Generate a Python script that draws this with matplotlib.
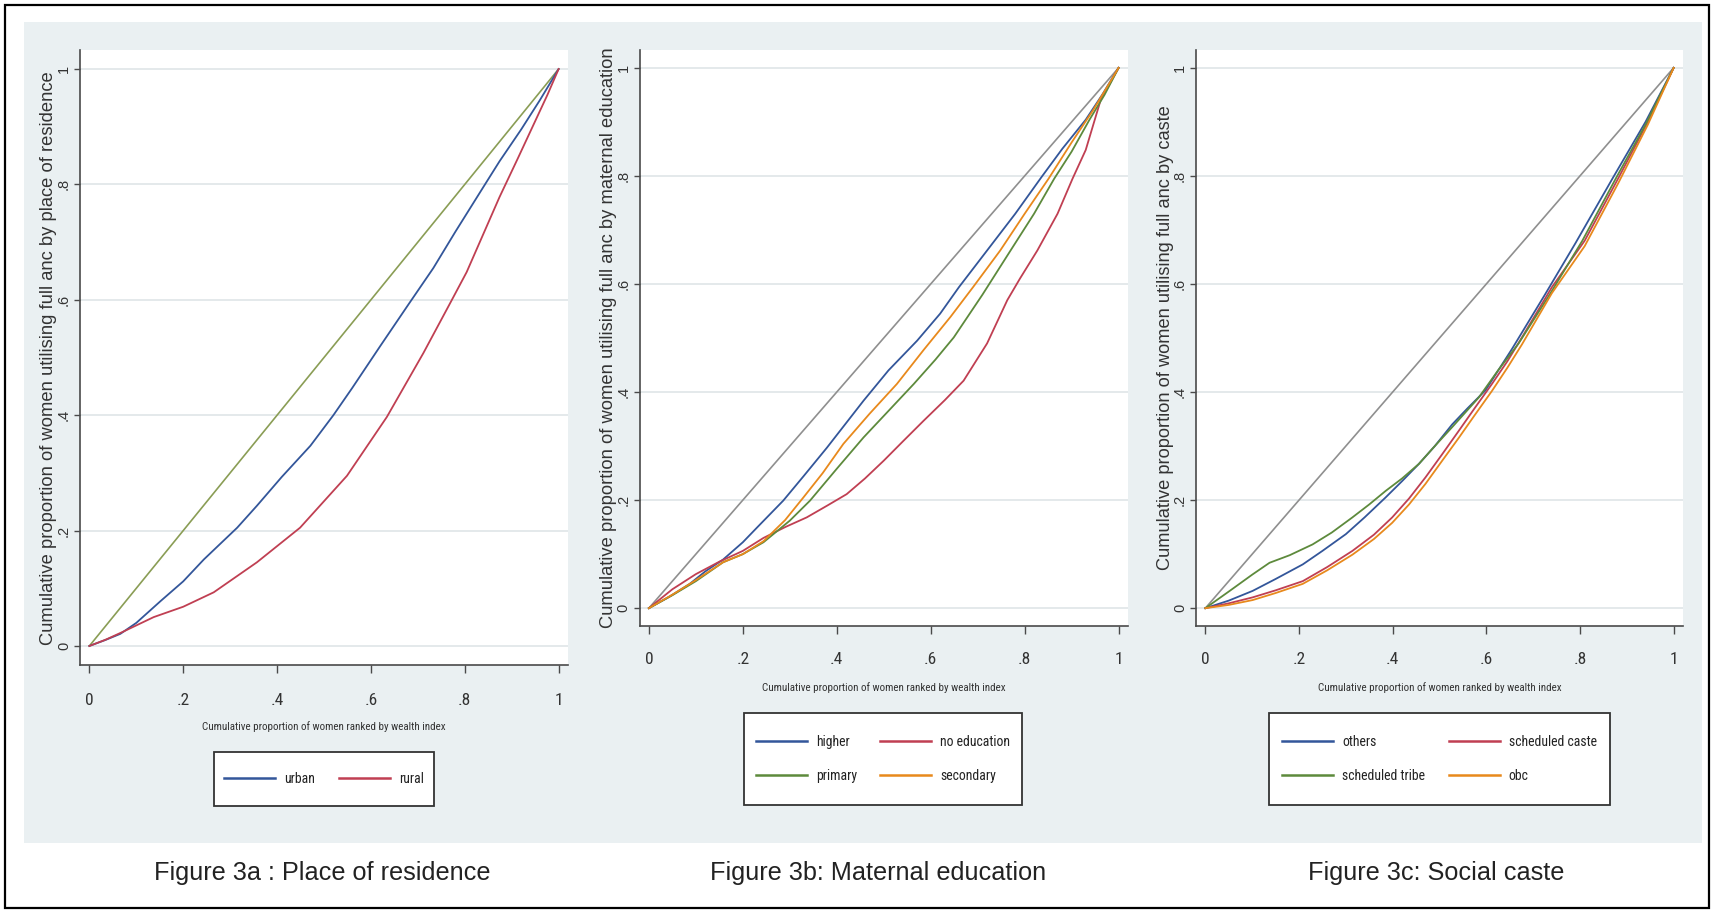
import matplotlib
matplotlib.use('Agg')
import matplotlib.pyplot as plt
from matplotlib.patches import Rectangle
from matplotlib.lines import Line2D
from matplotlib import font_manager
from matplotlib.font_manager import FontProperties

# ---------------- data ----------------
tick_vals = [0, 0.2, 0.4, 0.6, 0.8, 1.0]
tick_labels = ['0', '.2', '.4', '.6', '.8', '1']

# Figure 3a : place of residence
x_urban = [0, 0.033, 0.066, 0.10, 0.152, 0.20, 0.244, 0.315, 0.357, 0.41, 0.471, 0.52, 0.56, 0.62, 0.68, 0.733, 0.78, 0.84, 0.874, 0.92, 0.96, 1.0]
y_urban = [0, 0.010, 0.021, 0.040, 0.078, 0.112, 0.150, 0.205, 0.243, 0.293, 0.347, 0.400, 0.447, 0.520, 0.592, 0.655, 0.718, 0.796, 0.840, 0.895, 0.946, 1.0]
x_rural = [0, 0.035, 0.07, 0.137, 0.20, 0.265, 0.357, 0.449, 0.549, 0.634, 0.712, 0.77, 0.804, 0.874, 0.913, 0.976, 1.0]
y_rural = [0, 0.011, 0.024, 0.050, 0.068, 0.093, 0.145, 0.205, 0.295, 0.397, 0.508, 0.596, 0.648, 0.778, 0.845, 0.955, 1.0]

# Figure 3b : maternal education
x_higher = [0, 0.045, 0.087, 0.12, 0.158, 0.20, 0.230, 0.286, 0.33, 0.379, 0.457, 0.51, 0.571, 0.62, 0.66, 0.72, 0.78, 0.836, 0.88, 0.93, 0.965, 1.0]
y_higher = [0, 0.022, 0.045, 0.068, 0.090, 0.122, 0.149, 0.199, 0.245, 0.297, 0.384, 0.44, 0.495, 0.545, 0.594, 0.662, 0.73, 0.798, 0.85, 0.904, 0.95, 1.0]
x_noedu = [0, 0.05, 0.10, 0.15, 0.20, 0.244, 0.29, 0.336, 0.38, 0.421, 0.46, 0.500, 0.54, 0.585, 0.63, 0.670, 0.72, 0.763, 0.79, 0.827, 0.87, 0.902, 0.93, 0.962, 1.0]
y_noedu = [0, 0.035, 0.063, 0.086, 0.106, 0.130, 0.150, 0.168, 0.19, 0.211, 0.24, 0.273, 0.308, 0.347, 0.385, 0.421, 0.49, 0.570, 0.61, 0.662, 0.73, 0.795, 0.848, 0.941, 1.0]
x_primary = [0, 0.05, 0.10, 0.158, 0.20, 0.244, 0.30, 0.343, 0.40, 0.457, 0.51, 0.564, 0.61, 0.649, 0.71, 0.770, 0.82, 0.863, 0.90, 0.938, 0.97, 1.0]
y_primary = [0, 0.024, 0.050, 0.085, 0.100, 0.122, 0.162, 0.199, 0.258, 0.316, 0.365, 0.415, 0.46, 0.501, 0.58, 0.662, 0.73, 0.795, 0.845, 0.904, 0.95, 1.0]
x_secondary = [0, 0.05, 0.10, 0.158, 0.20, 0.244, 0.29, 0.329, 0.37, 0.414, 0.47, 0.528, 0.585, 0.642, 0.69, 0.748, 0.80, 0.851, 0.90, 0.946, 1.0]
y_secondary = [0, 0.025, 0.052, 0.085, 0.100, 0.124, 0.163, 0.205, 0.25, 0.304, 0.36, 0.415, 0.478, 0.539, 0.594, 0.662, 0.73, 0.795, 0.862, 0.922, 1.0]

# Figure 3c : social caste
x_others = [0, 0.05, 0.101, 0.15, 0.208, 0.25, 0.300, 0.34, 0.385, 0.42, 0.456, 0.49, 0.527, 0.56, 0.598, 0.655, 0.725, 0.79, 0.87, 0.94, 1.0]
y_others = [0, 0.014, 0.032, 0.054, 0.081, 0.106, 0.137, 0.168, 0.205, 0.235, 0.267, 0.30, 0.34, 0.37, 0.403, 0.48, 0.58, 0.675, 0.796, 0.90, 1.0]
x_sc = [0, 0.05, 0.101, 0.15, 0.208, 0.26, 0.314, 0.36, 0.399, 0.435, 0.470, 0.505, 0.541, 0.575, 0.612, 0.645, 0.676, 0.74, 0.81, 0.882, 0.945, 1.0]
y_sc = [0, 0.009, 0.020, 0.033, 0.050, 0.076, 0.106, 0.136, 0.168, 0.203, 0.242, 0.284, 0.328, 0.370, 0.415, 0.457, 0.501, 0.594, 0.68, 0.796, 0.90, 1.0]
x_st = [0, 0.052, 0.10, 0.137, 0.18, 0.229, 0.27, 0.314, 0.35, 0.385, 0.42, 0.456, 0.49, 0.527, 0.584, 0.625, 0.669, 0.735, 0.805, 0.877, 0.94, 1.0]
y_st = [0, 0.032, 0.062, 0.084, 0.098, 0.118, 0.140, 0.168, 0.192, 0.217, 0.240, 0.267, 0.30, 0.335, 0.390, 0.44, 0.49, 0.58, 0.68, 0.796, 0.895, 1.0]
x_obc = [0, 0.05, 0.101, 0.15, 0.208, 0.26, 0.314, 0.36, 0.399, 0.435, 0.470, 0.505, 0.541, 0.575, 0.612, 0.645, 0.676, 0.74, 0.81, 0.882, 0.945, 1.0]
y_obc = [0, 0.006, 0.015, 0.028, 0.045, 0.070, 0.099, 0.128, 0.158, 0.192, 0.230, 0.272, 0.315, 0.357, 0.402, 0.445, 0.488, 0.583, 0.67, 0.787, 0.895, 1.0]

x_equal = [0, 1]
y_equal = [0, 1]

xlabel_text = 'Cumulative proportion of women ranked by wealth index'
ylabels = ['Cumulative proportion of women utilising full anc by place of residence',
           'Cumulative proportion of women utilising full anc by maternal education',
           'Cumulative proportion of women utilising full anc by caste']
captions = ['Figure 3a : Place of residence', 'Figure 3b: Maternal education', 'Figure 3c: Social caste']

# ---------------- styling ----------------
BLUE = '#33569a'
RED = '#c03f52'
GREEN = '#5d8a3c'
ORANGE = '#e8891c'
GRAY = '#8f8f8f'
OLIVE = '#8a9d55'
BG = '#eaf0f2'
GRID = '#e4e9eb'
AXC = '#4a4a4a'

W, H, DPI = 1713, 913, 100
REG = 'Liberation Sans'


def pick_narrow():
    prefs = ['Liberation Sans Narrow', 'Arial Narrow', 'Roboto Condensed', 'Noto Sans',
             'Noto Sans Condensed', 'DejaVu Sans Condensed', 'DejaVu Sans', 'Open Sans',
             'Open Sans Condensed', 'Roboto']
    found = []
    for f in font_manager.fontManager.ttflist:
        if f.style != 'normal':
            continue
        if f.weight not in (400, 'normal', 'regular', 'book'):
            continue
        narrowish = ('Narrow' in f.name or 'Condensed' in f.name or
                     f.stretch in ('condensed', 'semi-condensed'))
        if not narrowish:
            continue
        rank = prefs.index(f.name) if f.name in prefs else len(prefs)
        st = 0 if f.stretch in ('condensed', 'semi-condensed', 'normal') else 1
        found.append((rank, st, f.fname))
    if found:
        found.sort()
        return FontProperties(fname=found[0][2])
    return FontProperties(family=REG)


NARROW_FP = pick_narrow()

fig = plt.figure(figsize=(W / DPI, H / DPI), dpi=DPI)
fig.patch.set_facecolor('white')
renderer = fig.canvas.get_renderer()


def fx(px):
    return px / W


def fy(py):
    return 1 - py / H


def narrow(size):
    fp = NARROW_FP.copy()
    fp.set_size(size)
    return fp


# size the legend font so that a sample string matches the reference width
probe = fig.text(0, 0, 'scheduled caste', fontproperties=narrow(10))
w10 = probe.get_window_extent(renderer=renderer).width
LEG_SIZE = 10 * 88.0 / w10
probe.remove()
TICK_SIZE = 12.5

fig.add_artist(Rectangle((fx(24), fy(843)), fx(1702) - fx(24), fy(22) - fy(843),
                         transform=fig.transFigure, facecolor=BG, edgecolor='none', zorder=0))
fig.add_artist(Rectangle((fx(5), fy(908)), fx(1709) - fx(5), fy(5) - fy(908),
                         transform=fig.transFigure, fill=False, edgecolor='black',
                         linewidth=1.6, zorder=5))

panels = [
    dict(box=(80, 568, 50, 665), diag=OLIVE, xpad=14,
         series=[(x_urban, y_urban, BLUE, 'urban'), (x_rural, y_rural, RED, 'rural')],
         legend_order=[0, 1], leg_box=(214, 434, 752, 806), xlab_y=727, cap_x=322,
         ylab_c=358, ylab_len=575, cap_len=336),
    dict(box=(639.5, 1128, 50, 626), diag=GRAY, xpad=13,
         series=[(x_higher, y_higher, BLUE, 'higher'), (x_noedu, y_noedu, RED, 'no education'),
                 (x_primary, y_primary, GREEN, 'primary'), (x_secondary, y_secondary, ORANGE, 'secondary')],
         legend_order=[0, 2, 1, 3], leg_box=(744, 1022, 713, 805), xlab_y=688, cap_x=878,
         ylab_c=338, ylab_len=585, cap_len=336),
    dict(box=(1196, 1683, 50, 626), diag=GRAY, xpad=13,
         series=[(x_others, y_others, BLUE, 'others'), (x_sc, y_sc, RED, 'scheduled caste'),
                 (x_st, y_st, GREEN, 'scheduled tribe'), (x_obc, y_obc, ORANGE, 'obc')],
         legend_order=[0, 2, 1, 3], leg_box=(1269, 1610, 713, 805), xlab_y=688, cap_x=1436,
         ylab_c=338, ylab_len=468, cap_len=255),
]

fit_items = []

for i, p in enumerate(panels):
    l, r, t, b = p['box']
    ax = fig.add_axes([fx(l), fy(b), fx(r) - fx(l), fy(t) - fy(b)])
    ax.set_facecolor('white')
    ax.set_xlim(-0.02, 1.02)
    ax.set_ylim(-0.033, 1.033)
    for s in ['top', 'right']:
        ax.spines[s].set_visible(False)
    for s in ['left', 'bottom']:
        ax.spines[s].set_color(AXC)
        ax.spines[s].set_linewidth(1.2)
    ax.set_xticks(tick_vals)
    ax.set_xticklabels(tick_labels)
    ax.set_yticks(tick_vals)
    ax.set_yticklabels(tick_labels, rotation=90, va='center')
    ax.yaxis.grid(True, color=GRID, linewidth=1.4)
    ax.set_axisbelow(True)
    ax.tick_params(axis='x', length=6, width=1.0, color=AXC, pad=p['xpad'], labelcolor='#333333')
    ax.tick_params(axis='y', length=4, width=1.0, color=AXC, pad=2.5,
                   labelsize=10.5, labelcolor='#333333')
    for lab in ax.get_xticklabels():
        lab.set_fontproperties(narrow(TICK_SIZE))
    for lab in ax.get_yticklabels():
        lab.set_fontfamily(REG)

    ax.plot(x_equal, y_equal, color=p['diag'], linewidth=1.2, zorder=2)
    handles = []
    for xs, ys, col, name in p['series']:
        ax.plot(xs, ys, color=col, linewidth=1.3, zorder=3)
        handles.append(Line2D([], [], color=col, linewidth=1.8, label=name))

    cx = (l + r) / 2
    t1 = fig.text(fx(cx), fy(p['xlab_y']), xlabel_text, ha='center', va='center',
                  fontproperties=narrow(9), color='#333333')
    fit_items.append((t1, 243, 'w'))
    t2 = fig.text(fx(l - 31), fy(p['ylab_c']), ylabels[i], ha='center', va='center',
                  rotation=90, fontfamily=REG, fontsize=10, color='#333333')
    fit_items.append((t2, p['ylab_len'], 'h'))
    t3 = fig.text(fx(p['cap_x']), fy(873), captions[i], ha='center', va='center',
                  fontfamily=REG, fontsize=18, color='#222222')
    fit_items.append((t3, p['cap_len'], 'w'))

    bl, br, bt, bb = p['leg_box']
    fig.add_artist(Rectangle((fx(bl), fy(bb)), fx(br) - fx(bl), fy(bt) - fy(bb),
                             transform=fig.transFigure, facecolor='white',
                             edgecolor='#333333', linewidth=1.3, zorder=3))
    ordered = [handles[k] for k in p['legend_order']]
    leg = fig.legend(handles=ordered, loc='center',
                     bbox_to_anchor=(fx((bl + br) / 2), fy((bt + bb) / 2)),
                     bbox_transform=fig.transFigure, ncol=2, frameon=False,
                     handlelength=3.7, handletextpad=0.65, columnspacing=1.7,
                     labelspacing=1.45, borderpad=0.0,
                     prop=narrow(LEG_SIZE))
    leg.set_zorder(4)
    for txt in leg.get_texts():
        txt.set_color('#222222')

# fit text lengths to the reference
for txt, target, mode in fit_items:
    bb = txt.get_window_extent(renderer=renderer)
    cur = bb.width if mode == 'w' else bb.height
    if cur > 0:
        txt.set_fontsize(txt.get_fontsize() * target / cur)

fig.savefig('out.png', dpi=DPI, facecolor='white')
